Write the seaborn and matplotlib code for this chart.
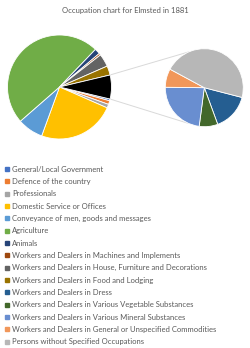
import numpy as np
import matplotlib
matplotlib.use("Agg")
import matplotlib.pyplot as plt
from matplotlib.lines import Line2D
import seaborn as sns

categories = [
    "General/Local Government",
    "Defence of the country",
    "Professionals",
    "Domestic Service or Offices",
    "Conveyance of men, goods and messages",
    "Agriculture",
    "Animals",
    "Workers and Dealers in Machines and Implements",
    "Workers and Dealers in House, Furniture and Decorations",
    "Workers and Dealers in Food and Lodging",
    "Workers and Dealers in Dress",
    "Workers and Dealers in Various Vegetable Substances",
    "Workers and Dealers in Various Mineral Substances",
    "Workers and Dealers in General or Unspecified Commodities",
    "Persons without Specified Occupations",
]
counts = [1, 2, 2, 42, 14, 85, 3, 1, 7, 5, 2, 1, 3, 1, 6]
colors = ["#4472C4", "#ED7D31", "#A5A5A5", "#FFC000", "#5B9BD5", "#70AD47",
          "#264478", "#9E480E", "#636363", "#997300",
          "#255E91", "#43682B", "#698ED0", "#F1975A", "#B7B7B7"]
n_secondary = 5
other_color = "#000000"
title = "Occupation chart for Elmsted in 1881"

sns.set_theme(style="white")
plt.rcParams["font.family"] = ["Lato", "DejaVu Sans"]
txt_color = "#595959"

W, H = 250, 348
fig = plt.figure(figsize=(W / 100, H / 100), dpi=100)
ax = fig.add_axes([0, 0, 1, 1])

main_vals = counts[:-n_secondary]
sec_vals = counts[-n_secondary:]
other = sum(sec_vals)
total = sum(counts)
half = 180.0 * other / total

c1 = (59.5, H - 87.0)
r1 = 52.0
c2 = (204.3, H - 87.7)
r2 = 39.0

wp = dict(edgecolor="white", linewidth=0.6)
ax.pie(main_vals + [other], colors=colors[:-n_secondary] + [other_color],
       startangle=-half, counterclock=False, center=c1, radius=r1,
       wedgeprops=wp, frame=True)
ax.pie(sec_vals, colors=colors[-n_secondary:], startangle=-14.5,
       counterclock=False, center=c2, radius=r2, wedgeprops=wp, frame=True)

# connector lines
for sgn in (1, -1):
    a1 = np.deg2rad(sgn * half)
    a2 = np.deg2rad(sgn * 113)
    ax.plot([c1[0] + r1 * np.cos(a1), c2[0] + r2 * np.cos(a2)],
            [c1[1] + r1 * np.sin(a1), c2[1] + r2 * np.sin(a2)],
            color="#D9D9D9", lw=0.7, zorder=0)

ax.set_xlim(0, W)
ax.set_ylim(0, H)
ax.set_aspect("equal")
ax.axis("off")

fig.text(0.5, 1 - 10.5 / H, title, ha="center", va="center",
         fontsize=5.5, color=txt_color)

handles = [Line2D([], [], marker="s", color=c, linestyle="none", markersize=2.4)
           for c in colors]
leg = fig.legend(handles, categories, loc="upper left",
                 bbox_to_anchor=(4 / W, 1 - 165.5 / H), frameon=False,
                 fontsize=5.5, labelspacing=0.70, handlelength=0.7,
                 handletextpad=0.35, borderpad=0, borderaxespad=0)
for t in leg.get_texts():
    t.set_color(txt_color)

fig.savefig("out.png", dpi=100)
